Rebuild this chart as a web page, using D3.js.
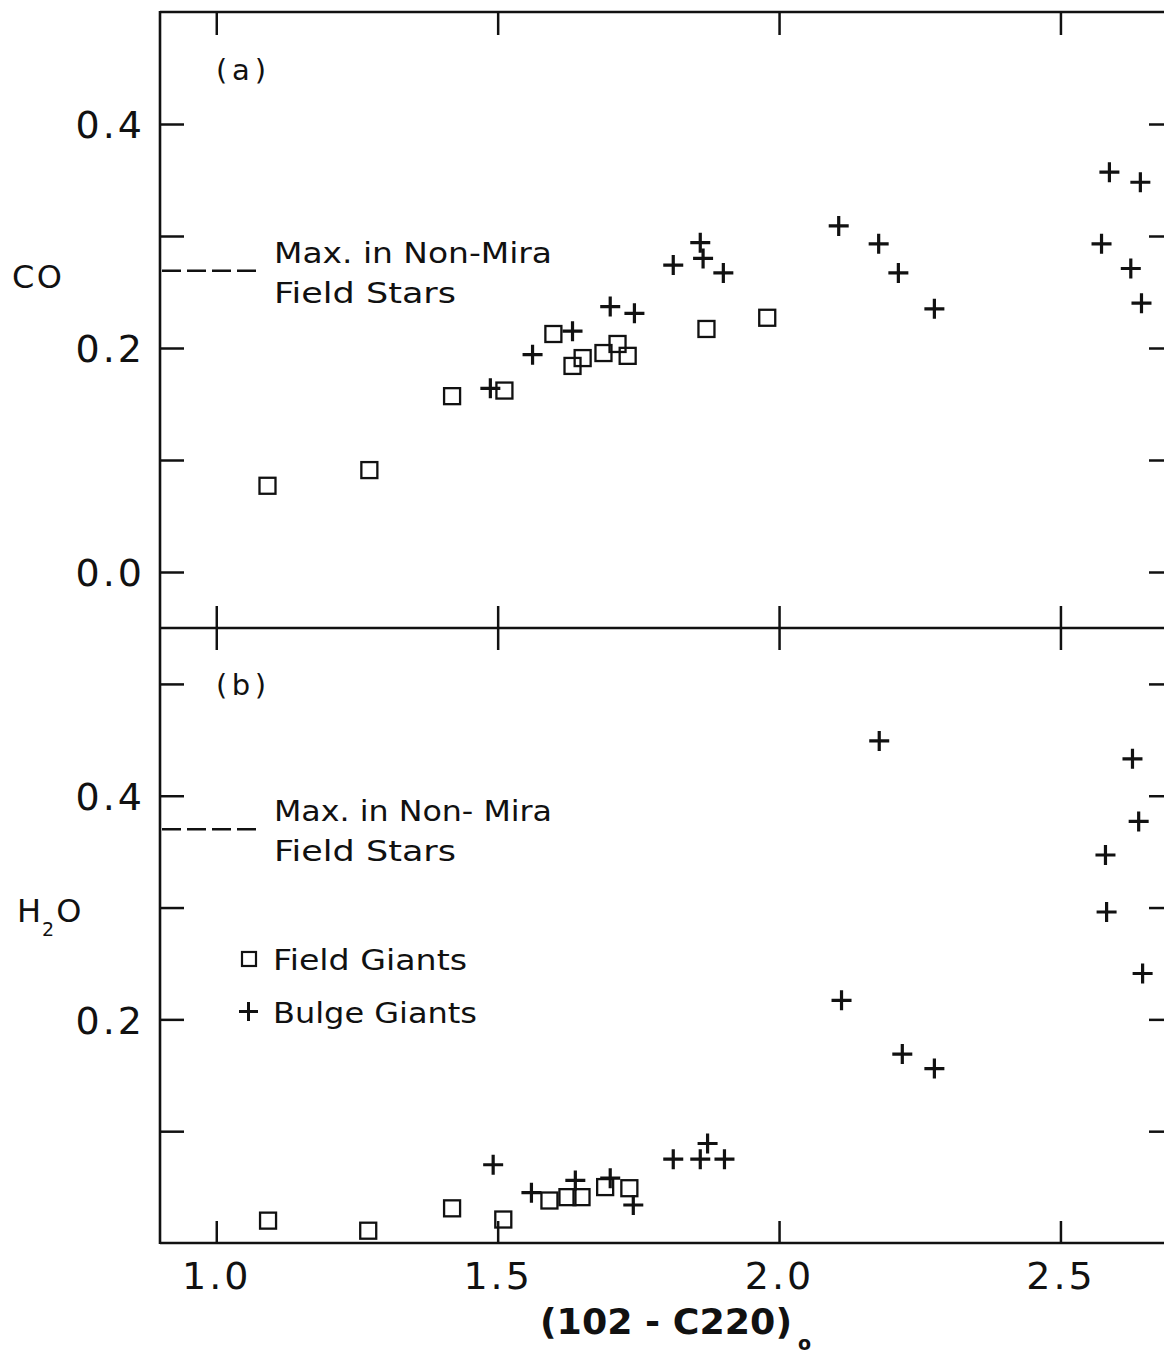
<!DOCTYPE html>
<html>
<head>
<meta charset="utf-8">
<script src="https://cdn.jsdelivr.net/npm/d3@7"></script>
<style>
  body { margin: 0; background: #fff; }
  svg text { font-family: "DejaVu Sans", sans-serif; fill: #111; }
  .tick line { stroke: #111; stroke-width: 2.5; }
  .tick text { font-size: 38px; letter-spacing: 3px; }
</style>
</head>
<body>
<script>
// (a) CO index
const coFieldX = [1.091, 1.272, 1.419, 1.512, 1.599, 1.633, 1.651, 1.688, 1.713, 1.731, 1.871, 1.979];
const coFieldY = [0.077, 0.091, 0.157, 0.162, 0.2125, 0.184, 0.191, 0.1955, 0.2036, 0.193, 0.217, 0.227];
const coBulgeX = [1.487, 1.562, 1.633, 1.700, 1.743, 1.812, 1.860, 1.865, 1.901, 2.106, 2.177, 2.212, 2.276, 2.587, 2.642, 2.573, 2.625, 2.644];
const coBulgeY = [0.164, 0.194, 0.215, 0.237, 0.231, 0.274, 0.294, 0.280, 0.267, 0.309, 0.293, 0.267, 0.235, 0.357, 0.348, 0.293, 0.271, 0.240];

// (b) H2O index
const h2oFieldX = [1.092, 1.270, 1.419, 1.510, 1.592, 1.624, 1.649, 1.691, 1.734];
const h2oFieldY = [0.020, 0.011, 0.031, 0.021, 0.038, 0.041, 0.041, 0.050, 0.049];
const h2oBulgeX = [1.492, 1.560, 1.638, 1.700, 1.741, 1.812, 1.860, 1.873, 1.903, 2.111, 2.178, 2.219, 2.276, 2.580, 2.582, 2.628, 2.639, 2.646];
const h2oBulgeY = [0.070, 0.045, 0.056, 0.058, 0.034, 0.075, 0.075, 0.089, 0.075, 0.217, 0.449, 0.169, 0.156, 0.347, 0.296, 0.433, 0.377, 0.241];

// max value in non-Mira field stars: [CO, H2O]
const nonMiraMax = [0.269, 0.370];

const xTicks = [1.0, 1.5, 2.0, 2.5];
const coTicks = [0.0, 0.1, 0.2, 0.3, 0.4];
const coLabels = [0.0, 0.2, 0.4];
const h2oTicks = [0.1, 0.2, 0.3, 0.4, 0.5];
const h2oLabels = [0.2, 0.4];
const legendNames = ["Field Giants", "Bulge Giants"];

const width = 1164, height = 1358;
const pLeft = 160, pRight = 1173, pTop = 12, pMid = 628, pBottom = 1243;

const svg = d3.select("body").append("svg")
  .attr("width", width)
  .attr("height", height);

const x = d3.scaleLinear().domain([0.9, 2.7]).range([pLeft, pRight]);
const yCO = d3.scaleLinear().domain([-0.05, 0.5]).range([pMid, pTop]);
const yH2O = d3.scaleLinear().domain([0, 0.55]).range([pBottom, pMid]);

const fmt = d3.format(".1f");

function yAxes(scale, ticks, labels) {
  const l = svg.append("g")
    .attr("transform", `translate(${pLeft},0)`)
    .call(d3.axisLeft(scale)
      .tickValues(ticks)
      .tickSizeInner(-24).tickSizeOuter(0).tickPadding(15)
      .tickFormat(d => labels.some(v => Math.abs(v - d) < 1e-9) ? fmt(d) : ""));
  l.select(".domain").remove();
  l.selectAll(".tick text").attr("dy", "0.36em");

  const r = svg.append("g")
    .attr("transform", `translate(${pRight},0)`)
    .call(d3.axisRight(scale)
      .tickValues(ticks)
      .tickSizeInner(-24).tickSizeOuter(0)
      .tickFormat(""));
  r.select(".domain").remove();
}

yAxes(yCO, coTicks, coLabels);
yAxes(yH2O, h2oTicks, h2oLabels);

// x ticks on the top border, the shared middle line and the bottom axis
const xTop = svg.append("g").attr("transform", `translate(0,${pTop})`)
  .call(d3.axisTop(x).tickValues(xTicks).tickSizeInner(-23).tickSizeOuter(0).tickFormat(""));
xTop.select(".domain").remove();

const xMidUp = svg.append("g").attr("transform", `translate(0,${pMid})`)
  .call(d3.axisTop(x).tickValues(xTicks).tickSizeInner(22).tickSizeOuter(0).tickFormat(""));
xMidUp.select(".domain").remove();
const xMidDown = svg.append("g").attr("transform", `translate(0,${pMid})`)
  .call(d3.axisBottom(x).tickValues(xTicks).tickSizeInner(22).tickSizeOuter(0).tickFormat(""));
xMidDown.select(".domain").remove();

const xBot = svg.append("g").attr("transform", `translate(0,${pBottom})`)
  .call(d3.axisBottom(x).tickValues(xTicks).tickSizeInner(-22).tickSizeOuter(0).tickPadding(19)
    .tickFormat(fmt));
xBot.select(".domain").remove();

// frame
const frame = svg.append("g")
  .attr("stroke", "#111").attr("stroke-width", 2.6).attr("fill", "none");
frame.append("line").attr("x1", pLeft).attr("x2", pLeft).attr("y1", pTop - 1).attr("y2", pBottom + 1);
frame.append("line").attr("x1", pRight).attr("x2", pRight).attr("y1", pTop).attr("y2", pBottom);
frame.append("line").attr("x1", pLeft).attr("x2", pRight).attr("y1", pTop).attr("y2", pTop);
frame.append("line").attr("x1", pLeft).attr("x2", pRight).attr("y1", pMid).attr("y2", pMid);
frame.append("line").attr("x1", pLeft).attr("x2", pRight).attr("y1", pBottom).attr("y2", pBottom);

// markers
function squares(xs, ys, yScale, size) {
  svg.append("g").selectAll("rect")
    .data(xs.map((d, i) => [d, ys[i]]))
    .join("rect")
    .attr("x", d => x(d[0]) - size / 2)
    .attr("y", d => yScale(d[1]) - size / 2)
    .attr("width", size).attr("height", size)
    .attr("fill", "none").attr("stroke", "#111").attr("stroke-width", 2.3);
}

function crosses(xs, ys, yScale, size) {
  const h = size / 2;
  svg.append("g").selectAll("path")
    .data(xs.map((d, i) => [d, ys[i]]))
    .join("path")
    .attr("d", d => {
      const cx = x(d[0]), cy = yScale(d[1]);
      return `M${cx - h},${cy}H${cx + h}M${cx},${cy - h}V${cy + h}`;
    })
    .attr("fill", "none").attr("stroke", "#111").attr("stroke-width", 3.2);
}

squares(coFieldX, coFieldY, yCO, 16);
crosses(coBulgeX, coBulgeY, yCO, 20);
squares(h2oFieldX, h2oFieldY, yH2O, 16);
crosses(h2oBulgeX, h2oBulgeY, yH2O, 20);

// non-Mira maximum markers with their notes
[yCO, yH2O].forEach((yScale, i) => {
  const yy = yScale(nonMiraMax[i]);
  svg.append("line")
    .attr("x1", pLeft + 2).attr("x2", pLeft + 101)
    .attr("y1", yy).attr("y2", yy)
    .attr("stroke", "#111").attr("stroke-width", 2.4)
    .attr("stroke-dasharray", "19,6");
  const note = svg.append("g").attr("font-size", 28);
  note.append("text")
    .attr("x", 274).attr("y", yy - 8)
    .attr("textLength", 278).attr("lengthAdjust", "spacingAndGlyphs")
    .text(i === 0 ? "Max. in Non-Mira" : "Max. in Non- Mira");
  note.append("text")
    .attr("x", 274).attr("y", yy + 32)
    .attr("textLength", 182).attr("lengthAdjust", "spacingAndGlyphs")
    .text("Field Stars");
});

// panel letters
svg.append("text").attr("x", 216).attr("y", 80).attr("font-size", 29)
  .attr("textLength", 50).text("(a)");
svg.append("text").attr("x", 216).attr("y", 695).attr("font-size", 29)
  .attr("textLength", 50).text("(b)");

// y titles
svg.append("text").attr("x", 12).attr("y", 288).attr("font-size", 32)
  .attr("textLength", 50).text("CO");
const h2o = svg.append("text").attr("x", 17).attr("y", 922).attr("font-size", 32);
h2o.append("tspan").text("H");
h2o.append("tspan").attr("font-size", 19).attr("dx", 1).attr("dy", 14).text("2");
h2o.append("tspan").attr("dx", 2).attr("dy", -14).text("O");

// legend
const legendY = [yH2O(0.254), yH2O(0.207)];
const lg = svg.append("g");
lg.append("rect")
  .attr("x", 242).attr("y", legendY[0] - 7)
  .attr("width", 14).attr("height", 14)
  .attr("fill", "none").attr("stroke", "#111").attr("stroke-width", 2.2);
lg.append("path")
  .attr("d", `M239,${legendY[1]}H258M248.5,${legendY[1] - 9.5}V${legendY[1] + 9.5}`)
  .attr("stroke", "#111").attr("stroke-width", 3);
lg.selectAll("text")
  .data(legendNames)
  .join("text")
  .attr("x", 273)
  .attr("y", (d, i) => legendY[i] + 11)
  .attr("font-size", 28)
  .attr("textLength", (d, i) => i === 0 ? 194 : 204)
  .attr("lengthAdjust", "spacingAndGlyphs")
  .text(d => d);

// x title
const xt = svg.append("text").attr("x", 540).attr("y", 1334)
  .attr("font-size", 36).attr("font-weight", "bold");
xt.append("tspan").attr("textLength", 252).attr("lengthAdjust", "spacingAndGlyphs")
  .text("(102 - C220)");
svg.append("text").attr("x", 798).attr("y", 1350)
  .attr("font-size", 19).attr("font-weight", "bold").text("o");
</script>
</body>
</html>
